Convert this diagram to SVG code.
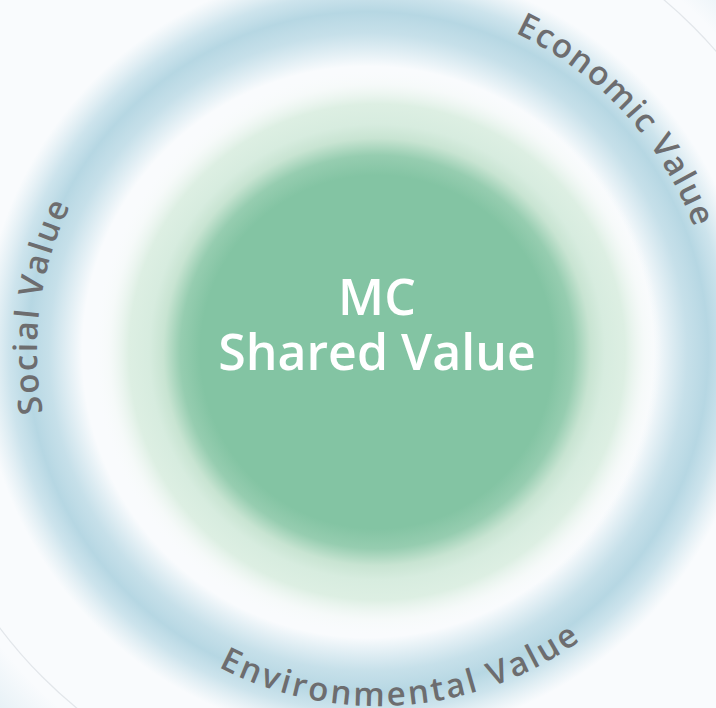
<svg xmlns="http://www.w3.org/2000/svg" width="716" height="708" viewBox="0 0 716 708">
  <defs>
    <style>
      .arc { font-family: "Open Sans", Lato, "Liberation Sans", sans-serif; font-weight: 600; font-size: 33px; fill: #6d6d6f; }
      .core { font-family: "Open Sans", Lato, "Liberation Sans", sans-serif; font-weight: 600; font-size: 50px; fill: #ffffff; text-anchor: middle; }
    </style>
    <radialGradient id="ringGrad" gradientUnits="userSpaceOnUse" cx="368" cy="352" r="420">
      <stop offset="0" stop-color="#b9d9e5" stop-opacity="0"/>
      <stop offset="0.68" stop-color="#b9d9e5" stop-opacity="0"/>
      <stop offset="0.76" stop-color="#bddbe6" stop-opacity="0.85"/>
      <stop offset="0.81" stop-color="#b6d7e3" stop-opacity="1"/>
      <stop offset="0.855" stop-color="#bedce7" stop-opacity="0.75"/>
      <stop offset="0.92" stop-color="#c8e1ea" stop-opacity="0"/>
      <stop offset="1" stop-color="#c8e1ea" stop-opacity="0"/>
    </radialGradient>
    <radialGradient id="outerGrad" gradientUnits="userSpaceOnUse" cx="368" cy="352" r="560">
      <stop offset="0" stop-color="#c2dde8" stop-opacity="0"/>
      <stop offset="0.84" stop-color="#c2dde8" stop-opacity="0"/>
      <stop offset="0.92" stop-color="#c2dde8" stop-opacity="0.35"/>
      <stop offset="1" stop-color="#b5d5e2" stop-opacity="0.7"/>
    </radialGradient>
    <radialGradient id="greenGrad" gradientUnits="userSpaceOnUse" cx="377" cy="352" r="285">
      <stop offset="0" stop-color="#83c4a3"/>
      <stop offset="0.62" stop-color="#83c4a3"/>
      <stop offset="0.69" stop-color="#96cdb0"/>
      <stop offset="0.75" stop-color="#c8e4d2"/>
      <stop offset="0.8" stop-color="#d7ecdf"/>
      <stop offset="0.87" stop-color="#ddefe3"/>
      <stop offset="0.94" stop-color="#f4f9f7" stop-opacity="0.6"/>
      <stop offset="1" stop-color="#fafcfd" stop-opacity="0"/>
    </radialGradient>
    <clipPath id="cornerClip">
      <polygon points="580,0 716,0 716,150"/>
      <polygon points="0,560 0,708 160,708"/>
    </clipPath>
    <path id="pEcon" d="M515,32.7 A351,351 0 0,1 710.7,289.1"/>
    <path id="pSoc" d="M43,412.6 A328,328 0 0,1 154.2,98.7"/>
    <path id="pEnv" d="M218.3,666.9 A346,346 0 0,0 643,582.4"/>
  </defs>

  <g id="background">
    <rect x="0" y="0" width="716" height="708" fill="#f9fbfd"/>
    <g clip-path="url(#cornerClip)">
      <rect x="0" y="0" width="716" height="708" fill="url(#outerGrad)"/>
      <circle cx="368" cy="352" r="460" fill="none" stroke="#cfd5da" stroke-width="1.2" stroke-opacity="0.55"/>
    </g>
  </g>

  <g id="outer-ring">
    <rect x="0" y="0" width="716" height="708" fill="url(#ringGrad)"/>
  </g>

  <g id="core">
    <circle cx="377" cy="352" r="285" fill="url(#greenGrad)"/>
    <text class="core" x="377" y="315">MC</text>
    <text class="core" x="377" y="370">Shared Value</text>
  </g>

  <g id="economic-value">
    <text class="arc"><textPath href="#pEcon" textLength="271" lengthAdjust="spacing">Economic Value</textPath></text>
  </g>
  <g id="social-value">
    <text class="arc"><textPath href="#pSoc" textLength="212" lengthAdjust="spacing">Social Value</textPath></text>
  </g>
  <g id="environmental-value">
    <text class="arc"><textPath href="#pEnv" textLength="382" lengthAdjust="spacing">Environmental Value</textPath></text>
  </g>
</svg>
